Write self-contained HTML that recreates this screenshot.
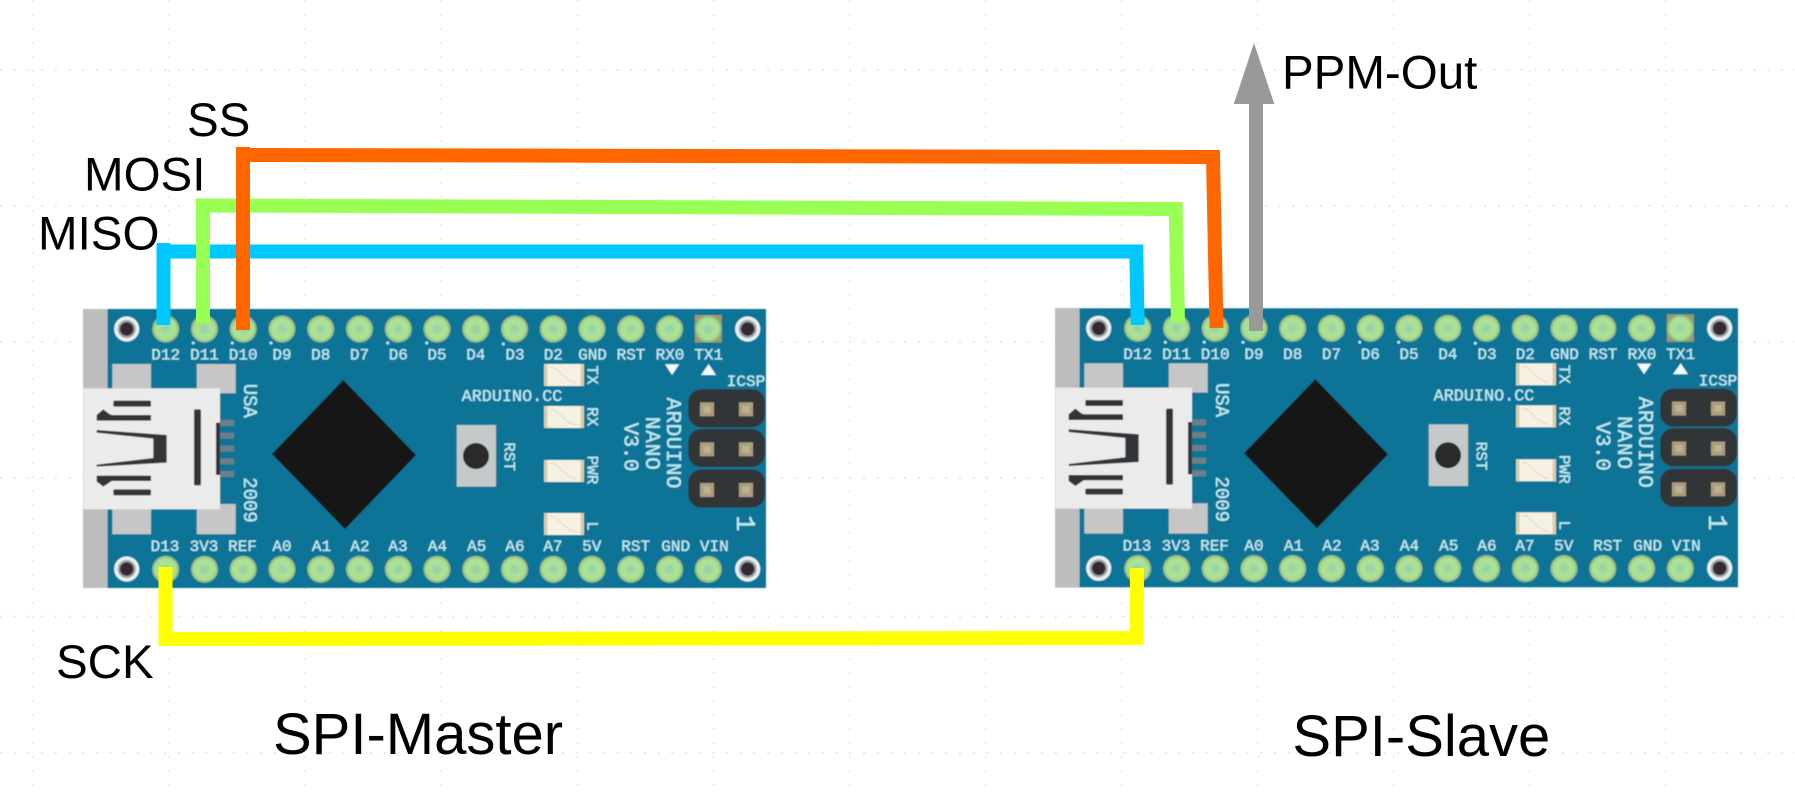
<!DOCTYPE html>
<html><head><meta charset="utf-8"><style>
html,body{margin:0;padding:0;background:#fff;width:1795px;height:797px;overflow:hidden}
svg{display:block}
.m{font-family:"Liberation Mono",monospace;font-size:16px;fill:#bfe9f0;text-anchor:middle;stroke:#bfe9f0;stroke-width:.3}
.b{font-size:19px}
.c{font-size:21px}
.l{font-family:"Liberation Sans",sans-serif;fill:#000}
</style></head><body>
<svg xmlns="http://www.w3.org/2000/svg" width="1795" height="797" viewBox="0 0 1795 797">
<defs>
<filter id="soft" x="-2%" y="-2%" width="104%" height="104%"><feGaussianBlur stdDeviation="0.55"/></filter>
<radialGradient id="pg"><stop offset="0" stop-color="#9ad2a8"/><stop offset=".33" stop-color="#9fd8a0"/><stop offset=".4" stop-color="#aae296"/><stop offset=".76" stop-color="#aae094"/><stop offset="1" stop-color="#8cb07c"/></radialGradient>
<g id="pin"><circle r="13.6" fill="url(#pg)"/></g>
<g id="hole"><circle r="12.6" fill="#e9eef1"/><circle r="9" fill="#9aa0a4"/><circle r="6.8" fill="#352c32"/></g>
<g id="led"><rect width="40" height="22" fill="#f7f1e3"/><rect width="3.5" height="22" fill="#d9cfad"/><rect x="36.5" width="3.5" height="22" fill="#d9cfad"/><path d="M6 3 C16 3 20 18 33 19" fill="none" stroke="#dcd2bd" stroke-width=".8"/></g>
<g id="pad"><rect x="-7" y="-7" width="14" height="14" fill="#a99d7d"/><rect x="-3.5" y="-3.5" width="7" height="7" fill="#bcb192"/></g>
<g id="art">
<rect x="83" y="309" width="683" height="279" fill="#0f7397"/>
<rect x="83" y="309" width="24.5" height="279" fill="#bdbdbd"/>
<rect x="112.3" y="364" width="38.7" height="26" fill="#c6c6c6"/>
<rect x="196.7" y="364" width="39" height="29.3" fill="#c6c6c6"/>
<rect x="112.3" y="507" width="38.7" height="27.3" fill="#c6c6c6"/>
<rect x="196.7" y="504" width="39" height="30.3" fill="#c6c6c6"/>
<g transform="translate(70,300) scale(.33333)">
<rect x="40" y="265" width="410" height="363" fill="#ebebeb"/>
<rect x="130" y="302" width="113" height="18" rx="4" fill="#333638"/>
<rect x="130" y="568" width="113" height="18" rx="4" fill="#333638"/>
<polygon points="80,345 100,328 118,342 125,345 243,345 243,362 80,362" fill="#333638"/>
<polygon points="80,527 243,527 243,543 125,543 100,560 80,545" fill="#333638"/>
<polygon points="80,390 290,405 290,488 80,500 80,494 250,474 250,416 80,398" fill="#333638"/>
<rect x="372" y="328" width="21" height="228" rx="4" fill="#333638"/>
<rect x="450" y="360" width="42" height="18" fill="#6c7f8a"/>
<rect x="450" y="398" width="42" height="18" fill="#6c7f8a"/>
<rect x="450" y="437" width="42" height="18" fill="#6c7f8a"/>
<rect x="450" y="475" width="42" height="18" fill="#6c7f8a"/>
<rect x="450" y="513" width="42" height="18" fill="#6c7f8a"/>
<rect x="438" y="368" width="12" height="157" fill="#333638"/>
</g>
<polygon points="343.3,380 416,455 345,529 272,454" fill="#141414"/>
<rect x="456.7" y="425" width="39.3" height="61.7" fill="#c5c9ca"/>
<circle cx="476" cy="456" r="13" fill="#2a2a2a"/>
<use href="#led" x="544" y="364"/>
<use href="#led" x="544" y="406"/>
<use href="#led" x="544" y="460"/>
<use href="#led" x="544" y="513"/>
<rect x="688.3" y="389.3" width="76.7" height="38" rx="13" fill="#333537"/>
<rect x="688.3" y="429" width="76.7" height="38" rx="13" fill="#333537"/>
<rect x="688.3" y="469.5" width="76.7" height="38" rx="13" fill="#333537"/>
<use href="#pad" x="707" y="409.3"/><use href="#pad" x="746" y="409.3"/>
<use href="#pad" x="707" y="449.3"/><use href="#pad" x="746" y="449.3"/>
<use href="#pad" x="707" y="490"/><use href="#pad" x="746" y="490"/>
<polygon points="665,364.3 679.3,364.3 672,375" fill="#f2fbfd"/>
<polygon points="701,375 716,375 708.7,364" fill="#f2fbfd"/>
<rect x="694.8" y="315" width="27" height="27.5" fill="#9c9a68"/>
<use href="#hole" x="126.7" y="329"/><use href="#hole" x="747.7" y="329"/>
<use href="#hole" x="126.7" y="569"/><use href="#hole" x="747.7" y="569"/>
<use href="#pin" x="165.7" y="329"/><use href="#pin" x="204.5" y="329"/><use href="#pin" x="243.2" y="329"/><use href="#pin" x="282" y="329"/><use href="#pin" x="320.7" y="329"/><use href="#pin" x="359.5" y="329"/><use href="#pin" x="398.3" y="329"/><use href="#pin" x="437" y="329"/><use href="#pin" x="475.8" y="329"/><use href="#pin" x="514.5" y="329"/><use href="#pin" x="553.3" y="329"/><use href="#pin" x="592" y="329"/><use href="#pin" x="630.8" y="329"/><use href="#pin" x="669.6" y="329"/><use href="#pin" x="708.3" y="329"/>
<use href="#pin" x="165.7" y="569.3"/><use href="#pin" x="204.5" y="569.3"/><use href="#pin" x="243.2" y="569.3"/><use href="#pin" x="282" y="569.3"/><use href="#pin" x="320.7" y="569.3"/><use href="#pin" x="359.5" y="569.3"/><use href="#pin" x="398.3" y="569.3"/><use href="#pin" x="437" y="569.3"/><use href="#pin" x="475.8" y="569.3"/><use href="#pin" x="514.5" y="569.3"/><use href="#pin" x="553.3" y="569.3"/><use href="#pin" x="592" y="569.3"/><use href="#pin" x="630.8" y="569.3"/><use href="#pin" x="669.6" y="569.3"/><use href="#pin" x="708.3" y="569.3"/>
<g fill="#bfe9f0"><circle cx="193.3" cy="343" r="1.5"/><circle cx="232.3" cy="343" r="1.5"/><circle cx="271" cy="343" r="1.5"/><circle cx="387.7" cy="343" r="1.5"/><circle cx="426.7" cy="343" r="1.5"/><circle cx="503.3" cy="344" r="1.5"/></g>
</g>
</defs>

<g fill="none" stroke="#e9e9e9" stroke-width="1.6" stroke-dasharray="2 12">
<path d="M33 0V797M169 0V797M305 0V797M441 0V797M577.5 0V797M713.6 0V797M850 0V797M986 0V797M1122 0V797M1258 0V797M1394 0V797M1530 0V797M1666 0V797"/>
</g>
<g fill="none" stroke="#e6e6e6" stroke-width="1.8" stroke-dasharray="2 11.7">
<path d="M0 70H1795M0 206H190M1265 206H1795M0 342H1795M0 478H1795M0 616.5H1795M0 753H1795"/>
</g>

<g filter="url(#soft)">
<use href="#art"/>
<g>
<text class="m" x="165.7" y="359.5">D12</text><text class="m" x="204.5" y="359.5">D11</text><text class="m" x="243.2" y="359.5">D10</text><text class="m" x="282" y="359.5">D9</text><text class="m" x="320.7" y="359.5">D8</text><text class="m" x="359.5" y="359.5">D7</text><text class="m" x="398.3" y="359.5">D6</text><text class="m" x="437" y="359.5">D5</text><text class="m" x="475.8" y="359.5">D4</text><text class="m" x="515" y="359.5">D3</text><text class="m" x="553.3" y="359.5">D2</text><text class="m" x="592.5" y="359.5">GND</text><text class="m" x="631" y="359.5">RST</text><text class="m" x="670" y="359.5">RX0</text><text class="m" x="708.7" y="359.5">TX1</text>
<text class="m" x="165" y="551">D13</text><text class="m" x="204" y="551">3V3</text><text class="m" x="242.5" y="551">REF</text><text class="m" x="282" y="551">A0</text><text class="m" x="321.5" y="551">A1</text><text class="m" x="360" y="551">A2</text><text class="m" x="398" y="551">A3</text><text class="m" x="437.5" y="551">A4</text><text class="m" x="476.7" y="551">A5</text><text class="m" x="515" y="551">A6</text><text class="m" x="553" y="551">A7</text><text class="m" x="591.7" y="551">5V</text><text class="m" x="635.7" y="551">RST</text><text class="m" x="675.7" y="551">GND</text><text class="m" x="714.3" y="551">VIN</text>
<text class="m" x="512" y="401" style="font-size:16.8px">ARDUINO.CC</text>
<text class="m" x="746" y="386">ICSP</text>
<text class="m b" transform="translate(244,400.8) rotate(90)">USA</text>
<text class="m b" transform="translate(244,500) rotate(90)">2009</text>
<text class="m" transform="translate(504.7,456.7) rotate(90)">RST</text>
<text class="m" transform="translate(587.5,375) rotate(90)">TX</text>
<text class="m" transform="translate(587.5,416.7) rotate(90)">RX</text>
<text class="m" transform="translate(587.5,470) rotate(90)">PWR</text>
<text class="m" transform="translate(587.5,526) rotate(90)">L</text>
<text class="m c" transform="translate(667,443) rotate(90)" textLength="91">ARDUINO</text>
<text class="m c" transform="translate(646,443.3) rotate(90)" textLength="53">NANO</text>
<text class="m c" transform="translate(624.7,447) rotate(90)" textLength="49">V3.0</text>
<text class="m" transform="translate(737,523.3) rotate(90)" style="font-size:27px">1</text>
</g>
</g>

<g filter="url(#soft)" transform="translate(972,-0.7)">
<use href="#art"/>
<g>
<text class="m" x="165.7" y="359.5">D12</text><text class="m" x="204.5" y="359.5">D11</text><text class="m" x="243.2" y="359.5">D10</text><text class="m" x="282" y="359.5">D9</text><text class="m" x="320.7" y="359.5">D8</text><text class="m" x="359.5" y="359.5">D7</text><text class="m" x="398.3" y="359.5">D6</text><text class="m" x="437" y="359.5">D5</text><text class="m" x="475.8" y="359.5">D4</text><text class="m" x="515" y="359.5">D3</text><text class="m" x="553.3" y="359.5">D2</text><text class="m" x="592.5" y="359.5">GND</text><text class="m" x="631" y="359.5">RST</text><text class="m" x="670" y="359.5">RX0</text><text class="m" x="708.7" y="359.5">TX1</text>
<text class="m" x="165" y="551">D13</text><text class="m" x="204" y="551">3V3</text><text class="m" x="242.5" y="551">REF</text><text class="m" x="282" y="551">A0</text><text class="m" x="321.5" y="551">A1</text><text class="m" x="360" y="551">A2</text><text class="m" x="398" y="551">A3</text><text class="m" x="437.5" y="551">A4</text><text class="m" x="476.7" y="551">A5</text><text class="m" x="515" y="551">A6</text><text class="m" x="553" y="551">A7</text><text class="m" x="591.7" y="551">5V</text><text class="m" x="635.7" y="551">RST</text><text class="m" x="675.7" y="551">GND</text><text class="m" x="714.3" y="551">VIN</text>
<text class="m" x="512" y="401" style="font-size:16.8px">ARDUINO.CC</text>
<text class="m" x="746" y="386">ICSP</text>
<text class="m b" transform="translate(244,400.8) rotate(90)">USA</text>
<text class="m b" transform="translate(244,500) rotate(90)">2009</text>
<text class="m" transform="translate(504.7,456.7) rotate(90)">RST</text>
<text class="m" transform="translate(587.5,375) rotate(90)">TX</text>
<text class="m" transform="translate(587.5,416.7) rotate(90)">RX</text>
<text class="m" transform="translate(587.5,470) rotate(90)">PWR</text>
<text class="m" transform="translate(587.5,526) rotate(90)">L</text>
<text class="m c" transform="translate(667,443) rotate(90)" textLength="91">ARDUINO</text>
<text class="m c" transform="translate(646,443.3) rotate(90)" textLength="53">NANO</text>
<text class="m c" transform="translate(624.7,447) rotate(90)" textLength="49">V3.0</text>
<text class="m" transform="translate(737,523.3) rotate(90)" style="font-size:27px">1</text>
</g>
</g>

<g fill="none" stroke-width="14" stroke-linejoin="miter">
<polyline points="163.5,325 163.5,243" stroke="#00c8ff"/>
<polyline points="156.5,251.5 1136.3,251.5 1137.7,325" stroke="#00c8ff"/>
<polyline points="203,323 203,205.5 1175.7,209 1178,322" stroke="#99ff55"/>
<polyline points="243,330 243,147" stroke="#ff6600"/>
<polyline points="236,155 1213,157 1216.5,328" stroke="#ff6600"/>
<polyline points="165.5,567 165.5,639 1136.7,638 1137,568" stroke="#ffff00"/>
</g>
<rect x="1249" y="100" width="14" height="231" fill="#999999"/>
<polygon points="1254,43 1274.3,104 1233.8,104" fill="#999999"/>

<text class="l" x="187" y="136" font-size="47.5">SS</text>
<text class="l" x="84" y="190.5" font-size="47.5">MOSI</text>
<text class="l" x="38" y="249.5" font-size="47.5">MISO</text>
<text class="l" x="56" y="678" font-size="47.5">SCK</text>
<text class="l" x="273" y="754" font-size="58">SPI-Master</text>
<text class="l" x="1282" y="88.5" font-size="47.5">PPM-Out</text>
<text class="l" x="1292.4" y="756" font-size="58">SPI-Slave</text>
</svg>
</body></html>
